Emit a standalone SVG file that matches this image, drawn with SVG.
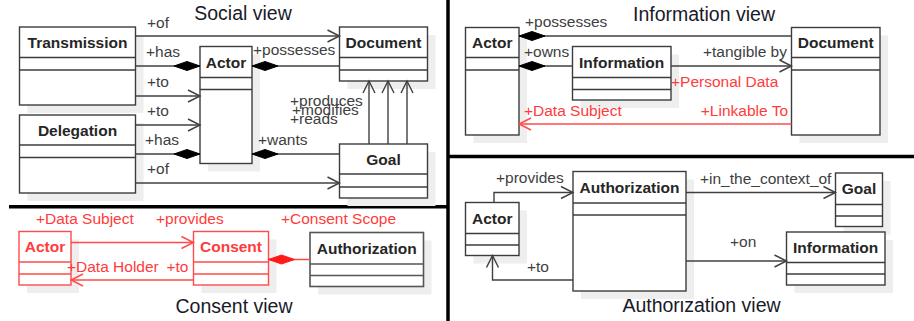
<svg xmlns="http://www.w3.org/2000/svg" width="914" height="321" viewBox="0 0 914 321">
<defs>
<style>
.sh{fill:#eeeeee}
.bx{fill:#ffffff;stroke:#3c3c3c;stroke-width:1.4}
.sp{stroke:#3c3c3c;stroke-width:1.4}
.rbx{fill:#ffffff;stroke:#ff4a4a;stroke-width:1.4}
.rsp{stroke:#ff4a4a;stroke-width:1.4}
.gbx{fill:#ffffff;stroke:#555555;stroke-width:1.6}
.gsp{stroke:#555555;stroke-width:1.6}
.nm{font-family:"Liberation Sans",Arial,sans-serif;font-weight:bold;font-size:15.5px;text-anchor:middle;fill:#262626}
.rnm{font-family:"Liberation Sans",Arial,sans-serif;font-weight:bold;font-size:15.5px;text-anchor:middle;fill:#ff3b3b}
.lb{font-family:"Liberation Sans",Arial,sans-serif;font-size:15.5px;fill:#404040}
.rlb{font-family:"Liberation Sans",Arial,sans-serif;font-size:15.5px;fill:#ff3b3b}
.ttl{font-family:"Liberation Sans",Arial,sans-serif;font-size:19.5px;fill:#1a1a2a;text-anchor:middle}
.ln{fill:none;stroke:#404040;stroke-width:1.4}
.rln{fill:none;stroke:#ff4a4a;stroke-width:1.4}
.div{stroke:#000000;stroke-width:3.5}
</style>
<marker id="arr" markerUnits="userSpaceOnUse" markerWidth="14" markerHeight="14" refX="12" refY="6.5" orient="auto" overflow="visible">
<path d="M0,0.5 L12,6.5 L0,12.5" fill="none" stroke="#404040" stroke-width="1.4"/>
</marker>
<marker id="rarr" markerUnits="userSpaceOnUse" markerWidth="14" markerHeight="14" refX="12" refY="6.5" orient="auto" overflow="visible">
<path d="M0,0.5 L12,6.5 L0,12.5" fill="none" stroke="#ff4a4a" stroke-width="1.4"/>
</marker>
<marker id="dia" markerUnits="userSpaceOnUse" markerWidth="28" markerHeight="10" refX="26" refY="5" orient="auto" overflow="visible">
<path d="M0,5 L13,0.5 L26,5 L13,9.5 Z" fill="#000000" stroke="#000000" stroke-width="1"/>
</marker>
<marker id="rdia" markerUnits="userSpaceOnUse" markerWidth="28" markerHeight="10" refX="26" refY="5" orient="auto" overflow="visible">
<path d="M0,5 L13,0.5 L26,5 L13,9.5 Z" fill="#ff1a1a" stroke="#ff1a1a" stroke-width="1"/>
</marker>
</defs>
<rect width="914" height="321" fill="#ffffff"/>

<g id="dividers">
<line class="div" x1="448" y1="0" x2="448" y2="321"/>
<line class="div" x1="9" y1="206.7" x2="448" y2="206.7"/>
<line class="div" x1="448" y1="156.5" x2="914" y2="156.5"/>
</g>

<g id="titles">
<text class="ttl" x="243" y="19.5">Social view</text>
<text class="ttl" x="704" y="21">Information view</text>
<text class="ttl" x="234" y="313">Consent view</text>
<text class="ttl" x="701.5" y="311.5">Authorization view</text>
</g>

<!-- Social view nodes -->
<g id="s-transmission">
<rect class="sh" x="27.5" y="35" width="116" height="78"/>
<rect class="bx" x="19.5" y="27" width="116" height="78"/>
<line class="sp" x1="19.5" y1="57.5" x2="135.5" y2="57.5"/>
<line class="sp" x1="19.5" y1="70" x2="135.5" y2="70"/>
<text class="nm" x="77.5" y="47.8">Transmission</text>
</g>
<g id="s-delegation">
<rect class="sh" x="27.5" y="123" width="116" height="78"/>
<rect class="bx" x="19.5" y="115" width="116" height="78"/>
<line class="sp" x1="19.5" y1="145" x2="135.5" y2="145"/>
<line class="sp" x1="19.5" y1="157.5" x2="135.5" y2="157.5"/>
<text class="nm" x="77.5" y="135.5">Delegation</text>
</g>
<g id="s-actor">
<rect class="sh" x="208" y="54.5" width="52" height="117"/>
<rect class="bx" x="200" y="46.5" width="52" height="117"/>
<line class="sp" x1="200" y1="77.5" x2="252" y2="77.5"/>
<line class="sp" x1="200" y1="89.5" x2="252" y2="89.5"/>
<text class="nm" x="226" y="67.5">Actor</text>
</g>
<g id="s-document">
<rect class="sh" x="347.5" y="35" width="88" height="54"/>
<rect class="bx" x="339.5" y="27" width="88" height="54"/>
<line class="sp" x1="339.5" y1="57.5" x2="427.5" y2="57.5"/>
<line class="sp" x1="339.5" y1="70" x2="427.5" y2="70"/>
<text class="nm" x="383.5" y="47.8">Document</text>
</g>
<g id="s-goal">
<rect class="sh" x="347.5" y="152" width="88" height="54"/>
<rect class="bx" x="339.5" y="144" width="88" height="54"/>
<line class="sp" x1="339.5" y1="174" x2="427.5" y2="174"/>
<line class="sp" x1="339.5" y1="187" x2="427.5" y2="187"/>
<text class="nm" x="383.5" y="164.5">Goal</text>
</g>

<!-- Information view nodes -->
<g id="i-actor">
<rect class="sh" x="473.5" y="35.5" width="53.5" height="107.5"/>
<rect class="bx" x="465.5" y="27.5" width="53.5" height="107.5"/>
<line class="sp" x1="465.5" y1="57.5" x2="519" y2="57.5"/>
<line class="sp" x1="465.5" y1="70" x2="519" y2="70"/>
<text class="nm" x="492.2" y="48">Actor</text>
</g>
<g id="i-information">
<rect class="sh" x="580.5" y="54.5" width="98.5" height="53.5"/>
<rect class="bx" x="572.5" y="46.5" width="98.5" height="53.5"/>
<line class="sp" x1="572.5" y1="77.5" x2="671" y2="77.5"/>
<line class="sp" x1="572.5" y1="89.5" x2="671" y2="89.5"/>
<text class="nm" x="621.7" y="67.5">Information</text>
</g>
<g id="i-document">
<rect class="sh" x="799.5" y="35.5" width="88.5" height="107.5"/>
<rect class="bx" x="791.5" y="27.5" width="88.5" height="107.5"/>
<line class="sp" x1="791.5" y1="57.5" x2="880" y2="57.5"/>
<line class="sp" x1="791.5" y1="70" x2="880" y2="70"/>
<text class="nm" x="835.7" y="48">Document</text>
</g>

<!-- Consent view nodes -->
<g id="c-actor">
<rect class="sh" x="27" y="239.5" width="52" height="53.5"/>
<rect class="rbx" x="19" y="231.5" width="52" height="53.5"/>
<line class="rsp" x1="19" y1="262" x2="71" y2="262"/>
<line class="rsp" x1="19" y1="274" x2="71" y2="274"/>
<text class="rnm" x="45" y="252">Actor</text>
</g>
<g id="c-consent">
<rect class="sh" x="201.5" y="239.5" width="75" height="53.5"/>
<rect class="rbx" x="193.5" y="231.5" width="75" height="53.5"/>
<line class="rsp" x1="193.5" y1="262" x2="268.5" y2="262"/>
<line class="rsp" x1="193.5" y1="274" x2="268.5" y2="274"/>
<text class="rnm" x="231" y="252">Consent</text>
</g>
<g id="c-authorization">
<rect class="sh" x="318" y="240.5" width="113.5" height="54"/>
<rect class="gbx" x="310" y="232.5" width="113.5" height="54"/>
<line class="gsp" x1="310" y1="264" x2="423.5" y2="264"/>
<line class="gsp" x1="310" y1="275.5" x2="423.5" y2="275.5"/>
<text class="nm" x="366.7" y="253.5">Authorization</text>
</g>

<!-- Authorization view nodes -->
<g id="a-actor">
<rect class="sh" x="473.5" y="210.5" width="53.5" height="53"/>
<rect class="bx" x="465.5" y="202.5" width="53.5" height="53"/>
<line class="sp" x1="465.5" y1="233.5" x2="519" y2="233.5"/>
<line class="sp" x1="465.5" y1="245" x2="519" y2="245"/>
<text class="nm" x="492.2" y="223.5">Actor</text>
</g>
<g id="a-authorization">
<rect class="sh" x="581" y="179.5" width="113" height="119.5"/>
<rect class="bx" x="573" y="171.5" width="113" height="119.5"/>
<line class="sp" x1="573" y1="203" x2="686" y2="203"/>
<line class="sp" x1="573" y1="215" x2="686" y2="215"/>
<text class="nm" x="629.5" y="192.8">Authorization</text>
</g>
<g id="a-goal">
<rect class="sh" x="843.5" y="181" width="47" height="53.5"/>
<rect class="bx" x="835.5" y="173" width="47" height="53.5"/>
<line class="sp" x1="835.5" y1="204.5" x2="882.5" y2="204.5"/>
<line class="sp" x1="835.5" y1="216" x2="882.5" y2="216"/>
<text class="nm" x="859" y="194.3">Goal</text>
</g>
<g id="a-information">
<rect class="sh" x="794.5" y="240" width="98.5" height="53"/>
<rect class="bx" x="786.5" y="232" width="98.5" height="53"/>
<line class="sp" x1="786.5" y1="262.5" x2="885" y2="262.5"/>
<line class="sp" x1="786.5" y1="274" x2="885" y2="274"/>
<text class="nm" x="835.7" y="252.8">Information</text>
</g>

<g id="connectors">
<!-- Social -->
<line class="ln" x1="135.5" y1="36" x2="339.5" y2="36" marker-end="url(#arr)"/>
<line class="ln" x1="135.5" y1="66" x2="200" y2="66" marker-end="url(#dia)"/>
<line class="ln" x1="339.5" y1="66" x2="252" y2="66" marker-end="url(#dia)"/>
<line class="ln" x1="135.5" y1="96" x2="200" y2="96" marker-end="url(#arr)"/>
<line class="ln" x1="135.5" y1="125" x2="200" y2="125" marker-end="url(#arr)"/>
<line class="ln" x1="135.5" y1="154" x2="200" y2="154" marker-end="url(#dia)"/>
<line class="ln" x1="339.5" y1="154" x2="252" y2="154" marker-end="url(#dia)"/>
<line class="ln" x1="135.5" y1="183" x2="339.5" y2="183" marker-end="url(#arr)"/>
<line class="ln" x1="369" y1="144" x2="369" y2="81" marker-end="url(#arr)"/>
<line class="ln" x1="388" y1="144" x2="388" y2="81" marker-end="url(#arr)"/>
<line class="ln" x1="407" y1="144" x2="407" y2="81" marker-end="url(#arr)"/>
<!-- Information -->
<line class="ln" x1="791.5" y1="36" x2="519" y2="36" marker-end="url(#dia)"/>
<line class="ln" x1="572.5" y1="66" x2="519" y2="66" marker-end="url(#dia)"/>
<line class="ln" x1="671" y1="66" x2="791.5" y2="66" marker-end="url(#arr)"/>
<line class="rln" x1="791.5" y1="124" x2="519" y2="124" marker-end="url(#rarr)"/>
<!-- Consent -->
<line class="rln" x1="71" y1="242.5" x2="193.5" y2="242.5" marker-end="url(#rarr)"/>
<line class="rln" x1="193.5" y1="280" x2="71" y2="280" marker-end="url(#rarr)"/>
<line class="rln" x1="310" y1="259.5" x2="268.5" y2="259.5" marker-end="url(#rdia)"/>
<!-- Authorization -->
<polyline class="ln" points="494,202.5 494,192.5 573,192.5" marker-end="url(#arr)"/>
<polyline class="ln" points="573,280 492.5,280 492.5,255.5" marker-end="url(#arr)"/>
<line class="ln" x1="686" y1="192.5" x2="835.5" y2="192.5" marker-end="url(#arr)"/>
<line class="ln" x1="686" y1="261" x2="786.5" y2="261" marker-end="url(#arr)"/>
</g>

<g id="labels">
<text class="lb" x="147" y="27.5">+of</text>
<text class="lb" x="146" y="57">+has</text>
<text class="lb" x="253" y="55">+possesses</text>
<text class="lb" x="147" y="86.5">+to</text>
<text class="lb" x="147" y="116">+to</text>
<text class="lb" x="145" y="145">+has</text>
<text class="lb" x="258" y="145">+wants</text>
<text class="lb" x="147" y="174">+of</text>
<text class="lb" x="290" y="106">+produces</text>
<text class="lb" x="292" y="114.5">+modifies</text>
<text class="lb" x="290" y="123.5">+reads</text>

<text class="lb" x="525" y="26.5">+possesses</text>
<text class="lb" x="524" y="57">+owns</text>
<text class="lb" x="787" y="57" text-anchor="end">+tangible by</text>
<text class="rlb" x="671" y="86.5">+Personal Data</text>
<text class="rlb" x="524" y="116">+Data Subject</text>
<text class="rlb" x="788" y="116" text-anchor="end">+Linkable To</text>

<text class="rlb" x="36" y="224">+Data Subject</text>
<text class="rlb" x="156" y="224">+provides</text>
<text class="rlb" x="281" y="224">+Consent Scope</text>
<text class="rlb" x="67" y="271.5">+Data Holder</text>
<text class="rlb" x="166.5" y="271.5">+to</text>

<text class="lb" x="496" y="183">+provides</text>
<text class="lb" x="527" y="271.5">+to</text>
<text class="lb" x="700" y="184">+in_the_context_of</text>
<text class="lb" x="730" y="246.5">+on</text>
</g>
</svg>
